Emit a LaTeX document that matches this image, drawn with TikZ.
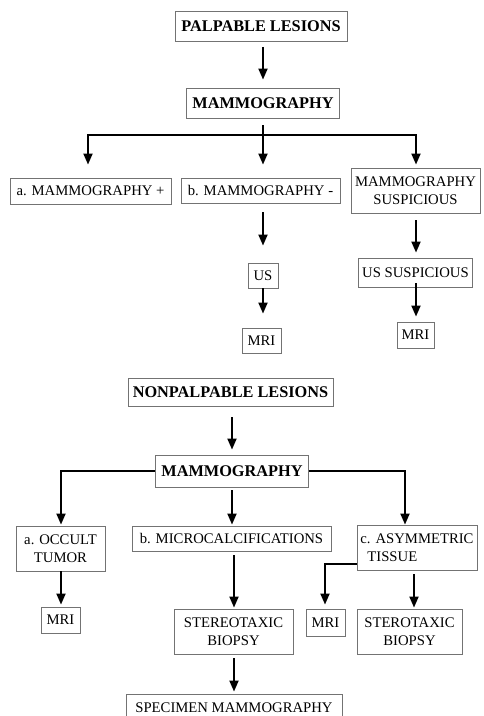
\documentclass[tikz,border=0pt]{standalone}
\usepackage{fontspec}
\setmainfont{Liberation Serif}
\usetikzlibrary{arrows.meta}
\begin{document}
\begin{tikzpicture}[x=1pt,y=-1pt,
  box/.style={draw=black!55, line width=0.9pt, inner sep=0pt, align=center,
    font=\fontsize{14.7}{17.5}\selectfont},
  hbox/.style={box, font=\fontsize{16.3}{19}\selectfont\bfseries},
  arr/.style={-{Triangle[length=11pt,width=9pt]}, line width=2pt},
  ln/.style={line width=2pt}]
\useasboundingbox (0,0) rectangle (484,716);
% ---------- palpable ----------
\node[hbox, minimum width=172pt, minimum height=30pt] (pl) at (261,26.5) {PALPABLE LESIONS};
\node[hbox, minimum width=153pt, minimum height=30pt] (m1) at (263,103) {MAMMOGRAPHY};
\node[box, minimum width=161pt, minimum height=26pt] (a1) at (90.5,191) {a. MAMMOGRAPHY +};
\node[box, minimum width=159pt, minimum height=25pt] (b1) at (260.5,190.5) {b. MAMMOGRAPHY -};
\node[box, minimum width=129pt, minimum height=45pt] (s1) at (415.5,190.5) {MAMMOGRAPHY\\SUSPICIOUS};
\node[box, minimum width=30pt, minimum height=25pt] (us) at (263,275.5) {US};
\node[box, minimum width=39pt, minimum height=25pt] (mri1) at (261.5,340.5) {MRI};
\node[box, minimum width=114pt, minimum height=29pt] (uss) at (415.5,272.5) {US SUSPICIOUS};
\node[box, minimum width=37pt, minimum height=26pt] (mri2) at (415.5,335) {MRI};
\coordinate (j1) at (263,135);
\draw[arr] ([yshift=-5pt]pl.south -| m1.north) -- ([yshift=8pt]m1.north);
\draw[ln] ([yshift=-7pt]m1.south) -- (j1);
\draw[arr] (j1) -| ([xshift=-2.5pt,yshift=13pt]a1.north);
\draw[arr] (j1) -- ([xshift=2.5pt,yshift=13pt]b1.north);
\draw[arr] (j1) -| ([xshift=0.5pt,yshift=3pt]s1.north);
\draw[arr] ([xshift=2.5pt,yshift=-9pt]b1.south) -- ([yshift=17pt]us.north);
\draw[arr] (us.south) -- ([xshift=1.5pt,yshift=14pt]mri1.north);
\draw[arr] ([xshift=0.5pt,yshift=-7pt]s1.south) -- ([xshift=0.5pt,yshift=5pt]uss.north);
\draw[arr] ([xshift=0.5pt,yshift=4pt]uss.south) -- ([xshift=0.5pt,yshift=5pt]mri2.north);
% ---------- nonpalpable ----------
\node[hbox, minimum width=205pt, minimum height=28pt] (nl) at (230.5,392) {NONPALPABLE LESIONS};
\node[hbox, minimum width=153pt, minimum height=32pt] (m2) at (232,471) {MAMMOGRAPHY};
\node[box, minimum width=89pt, minimum height=45pt] (a2) at (60.5,548.5) {a. OCCULT\\TUMOR};
\node[box, minimum width=199pt, minimum height=25pt] (b2) at (231.5,538.5) {b. MICROCALCIFICATIONS};
\node[box, minimum width=120pt, minimum height=45pt, align=left] (c2) at (417,547.5) {c. ASYMMETRIC\\\hspace*{7pt}TISSUE};
\node[box, minimum width=39pt, minimum height=26pt] (mri3) at (60.5,620) {MRI};
\node[box, minimum width=119pt, minimum height=45pt] (st1) at (233.5,631.5) {STEREOTAXIC\\BIOPSY};
\node[box, minimum width=216pt, minimum height=28pt] (spec) at (234,708) {SPECIMEN MAMMOGRAPHY};
\node[box, minimum width=39pt, minimum height=27pt] (mri4) at (325.5,622.5) {MRI};
\node[box, minimum width=105pt, minimum height=45pt] (st2) at (409.5,631.5) {STEROTAXIC\\BIOPSY};
\draw[arr] ([yshift=-11pt]nl.south -| m2.north) -- ([yshift=5pt]m2.north);
\draw[arr] (m2.west) -| ([xshift=0.5pt,yshift=1pt]a2.north);
\draw[arr] (m2.east) -| ([xshift=-12pt]c2.north);
\draw[arr] ([yshift=-3pt]m2.south) -- ([xshift=0.5pt,yshift=1pt]b2.north);
\draw[arr] ([xshift=0.5pt]a2.south) -- ([xshift=0.5pt,yshift=2pt]mri3.north);
\draw[arr] ([xshift=2.5pt,yshift=-4pt]b2.south) -- ([xshift=0.5pt,yshift=1pt]st1.north);
\draw[arr] ([xshift=0.5pt,yshift=-4pt]st1.south) -- ([yshift=2pt]spec.north);
\draw[arr] ([yshift=-16.5pt]c2.west) -| ([xshift=-0.5pt,yshift=4pt]mri4.north);
\draw[arr] ([xshift=-3pt,yshift=-4pt]c2.south) -- ([xshift=4.5pt,yshift=1pt]st2.north);
\end{tikzpicture}
\end{document}
